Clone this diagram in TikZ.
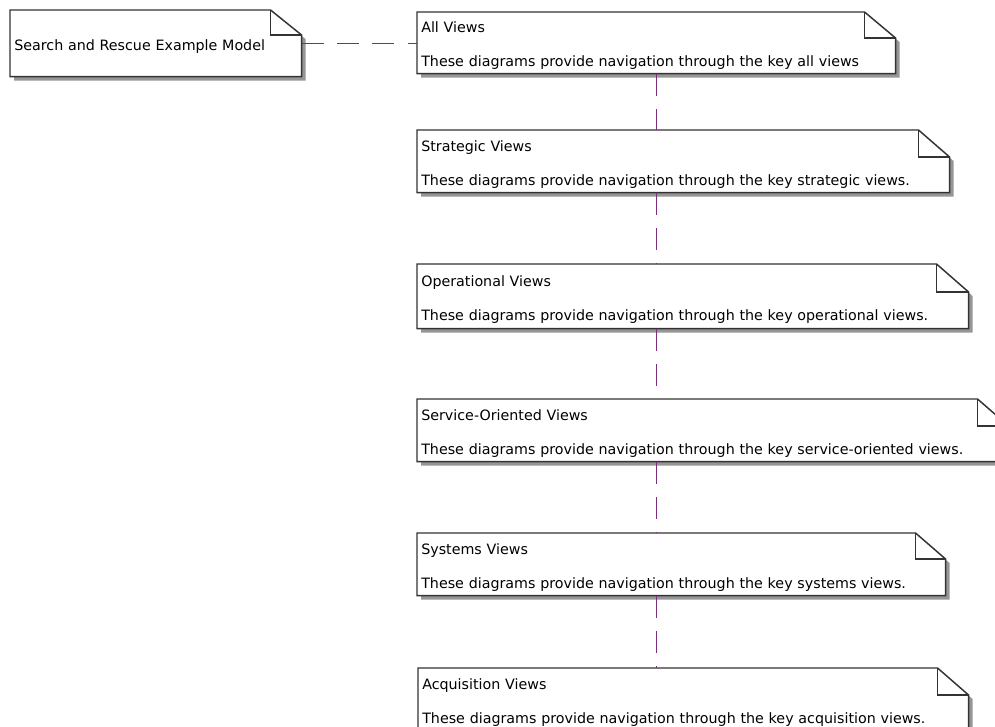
\documentclass[tikz,border=0pt]{standalone}
\usepackage{fontspec}
\setmainfont{DejaVu Sans}
\usetikzlibrary{positioning,calc,backgrounds}

\definecolor{linkpurple}{RGB}{125,45,125}
\definecolor{shadowgray}{RGB}{150,150,150}

\begin{document}
\begin{tikzpicture}[
    x=0.75pt, y=-0.75pt,
    every node/.style={font=\fontsize{10.7pt}{13pt}\selectfont},
    % Note body: text area only, outline drawn on the background layer
    note/.style={rectangle, draw=none, anchor=north west, align=left,
        inner xsep=3pt, inner ysep=0pt, text width=#1, minimum height=46.5pt,
        execute at begin node={\rule{0pt}{12.6pt}}},
    % Note outline and shadow
    noteline/.style={draw=black!80, line width=1.1pt, fill=white},
    noteshadow/.style={fill=shadowgray, transform canvas={shift={(3pt,-3pt)}}},
    % Dashed purple connector
    link/.style={draw=linkpurple, line width=1pt, dash pattern=on 16.5pt off 10pt},
]
\useasboundingbox (0,0) rectangle (995,727);

% ============================================================
% Notes
% ============================================================
\node[note=212.25pt, minimum height=49.5pt, execute at begin node={}] (model) at (10,10)
    {Search and Rescue Example Model};

\node[note=352.5pt, minimum height=45.75pt] (allviews) at (417,12)
    {All Views\\[12.5pt]These diagrams provide navigation through the key all views};
\node[note=393pt] (strategic) at (417,130)
    {Strategic Views\\[12.5pt]These diagrams provide navigation through the key strategic views.};
\node[note=407.25pt, minimum height=48pt] (operational) at (417,264)
    {Operational Views\\[12.5pt]These diagrams provide navigation through the key operational views.};
\node[note=437.25pt] (service) at (417,399)
    {Service-Oriented Views\\[12.5pt]These diagrams provide navigation through the key service-oriented views.};
\node[note=390pt] (systems) at (417,533)
    {Systems Views\\[12.5pt]These diagrams provide navigation through the key systems views.};
\node[note=406.5pt] (acquisition) at (418,668)
    {Acquisition Views\\[12.5pt]These diagrams provide navigation through the key acquisition views.};

% Outlines with folded corner, behind the texts
\begin{scope}[on background layer]
\foreach \n/\ew/\eh in {model/31/25, allviews/31/26, strategic/31/27,
        operational/32/28, service/31/27, systems/30/26, acquisition/31/27} {
    \fill[noteshadow]
        (\n.north west) -- ([shift={(-\ew,0)}]\n.north east)
        -- ([shift={(0,\eh)}]\n.north east) -- (\n.south east)
        -- (\n.south west) -- cycle;
    \draw[noteline]
        (\n.north west) -- ([shift={(-\ew,0)}]\n.north east)
        -- ([shift={(0,\eh)}]\n.north east) -- (\n.south east)
        -- (\n.south west) -- cycle;
    \draw[noteline, fill=none]
        ([shift={(-\ew,0)}]\n.north east) -- ([shift={(-\ew,\eh)}]\n.north east)
        -- ([shift={(0,\eh)}]\n.north east);
}
\end{scope}

% ============================================================
% Connectors
% ============================================================
\draw[link] (model.east) -- (model.east -| allviews.west);
\foreach \a/\b in {allviews/strategic, strategic/operational,
        operational/service, service/systems, systems/acquisition}
    \draw[link] (\a.south -| allviews.south) -- (\b.north -| allviews.south);

\end{tikzpicture}
\end{document}
